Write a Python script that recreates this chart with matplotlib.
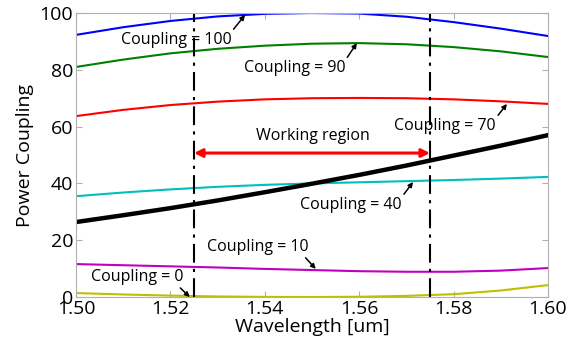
import numpy as np
import matplotlib
matplotlib.use("Agg")
import matplotlib.pyplot as plt

plt.rcParams['font.family'] = ['Open Sans', 'DejaVu Sans']

# wavelength samples (um) and power coupling
wavelength = [1.50, 1.51, 1.52, 1.53, 1.54, 1.55, 1.56, 1.57, 1.58, 1.59, 1.60]
coupling_100 = [92.3, 95.0, 97.2, 98.8, 99.7, 100.0, 99.8, 98.7, 96.8, 94.5, 91.9]
coupling_90 = [81.0, 83.6, 85.8, 87.4, 88.5, 89.2, 89.4, 89.0, 88.0, 86.5, 84.5]
coupling_70 = [63.7, 65.9, 67.6, 68.8, 69.6, 70.0, 70.1, 70.0, 69.6, 68.9, 68.0]
coupling_40 = [35.5, 36.8, 37.9, 38.8, 39.5, 40.0, 40.4, 40.8, 41.2, 41.7, 42.3]
coupling_10 = [11.6, 11.2, 10.8, 10.4, 9.9, 9.5, 9.1, 8.9, 8.9, 9.3, 10.2]
coupling_0 = [1.4, 0.9, 0.5, 0.2, 0.05, 0.0, 0.1, 0.4, 1.0, 2.3, 4.2]
device = [26.4, 28.8, 31.3, 34.0, 36.9, 39.9, 43.0, 46.3, 49.8, 53.3, 57.0]

region = [1.525, 1.575]

# (label, text x, text y, arrow tip x, arrow tip y, arrow start on text box)
labels = [
    ("Coupling = 100", 1.5212, 90.5, 1.5358, 99.3, (0.97, 0.75)),
    ("Coupling = 90", 1.5464, 80.6, 1.5595, 89.4, (0.97, 0.75)),
    ("Coupling = 70", 1.5782, 60.2, 1.5913, 68.0, (0.97, 0.75)),
    ("Coupling = 40", 1.5583, 32.4, 1.5714, 40.5, (0.97, 0.75)),
    ("Coupling = 10", 1.5386, 17.6, 1.5508, 9.9, (0.92, 0.15)),
    ("Coupling = 0", 1.5129, 7.0, 1.5241, 0.0, (0.92, 0.1)),
]

fig = plt.figure(figsize=(5.87, 3.47), dpi=100)
ax = fig.add_axes([0.1295, 0.144, 0.804, 0.8185])

ax.plot(wavelength, coupling_100, color='b', lw=1.5)
ax.plot(wavelength, coupling_90, color=(0, 0.5, 0), lw=1.5)
ax.plot(wavelength, coupling_70, color='r', lw=1.5)
ax.plot(wavelength, coupling_40, color=(0, 0.75, 0.75), lw=1.5)
ax.plot(wavelength, coupling_10, color=(0.75, 0, 0.75), lw=1.5)
ax.plot(wavelength, coupling_0, color=(0.75, 0.75, 0), lw=1.5)
ax.plot(wavelength, device, color='k', lw=3.2)

for x in region:
    ax.axvline(x, color='k', lw=1.5, linestyle=(0, (9, 3, 1.5, 3)))

# working region arrow
ax.annotate('', xy=(region[0], 50.7), xytext=(region[1], 50.7),
            arrowprops=dict(arrowstyle='<|-|>', color='r', lw=2.2,
                            mutation_scale=12, shrinkA=0, shrinkB=0))
ax.text(1.5502, 56.7, 'Working region', ha='center', va='center', fontsize=11.5)

for txt, tx, ty, ax_x, ax_y, rp in labels:
    ax.annotate(txt, xy=(ax_x, ax_y), xytext=(tx, ty), ha='center', va='center',
                fontsize=11.5,
                arrowprops=dict(arrowstyle='-|>', color='k', lw=1.1,
                                mutation_scale=7, shrinkA=0, shrinkB=0,
                                relpos=rp))

ax.set_xlim(1.50, 1.60)
ax.set_ylim(0, 100)
ax.set_xticks(np.arange(1.50, 1.601, 0.02))
ax.set_xticklabels(['1.50', '1.52', '1.54', '1.56', '1.58', '1.60'])
ax.set_yticks(np.arange(0, 101, 20))
ax.tick_params(direction='in', top=True, right=True, color='#b0b0b0',
               labelsize=14, length=4, pad=2)
for s in ax.spines.values():
    s.set_color('#b0b0b0')
ax.set_xlabel('Wavelength [um]', fontsize=14, labelpad=0)
ax.set_ylabel('Power Coupling', fontsize=14, labelpad=4)

fig.savefig('out.png', dpi=100)
